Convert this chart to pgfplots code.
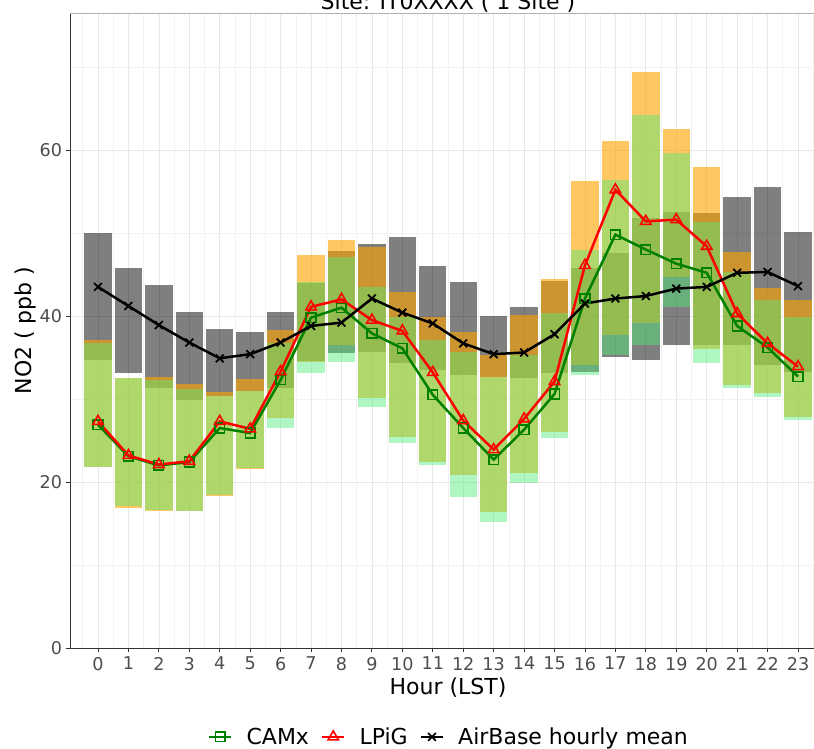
\documentclass[border=0pt]{standalone}
\usepackage{pgfplots}
\pgfplotsset{compat=1.18}
\usepackage{pgfplotstable}
\usepackage{fontspec}
\setmainfont{DejaVu Sans}

\definecolor{obsfill}{RGB}{0,0,0}
\definecolor{lpigfill}{RGB}{255,165,0}
\definecolor{camxfill}{RGB}{80,235,120}
\definecolor{camxline}{RGB}{0,128,0}
\definecolor{lpigline}{RGB}{255,0,0}
\definecolor{axisgrey}{RGB}{77,77,77}
\definecolor{axisdark}{RGB}{51,51,51}

% hourly ranges (ppb): AirBase (ob), LPiG (lp), CAMx (cx)
\pgfplotstableread{
h  oblo obhi lplo lphi cxlo cxhi
0  34.7 50.0 21.8 37.1 21.8 36.7
1  33.1 45.8 16.9 32.5 17.1 32.5
2  31.3 43.7 16.5 32.7 16.6 32.3
3  29.9 40.5 16.5 31.8 16.5 31.2
4  30.4 38.4 18.3 30.8 18.4 30.4
5  31.0 38.1 21.6 32.4 21.7 31.0
6  31.3 40.5 27.7 38.3 26.5 36.7
7  34.6 44.0 34.4 47.4 33.1 44.1
8  35.5 47.8 36.5 49.2 34.5 47.1
9  35.7 48.7 30.1 48.3 29.0 43.5
10 34.3 49.5 25.4 42.9 24.7 39.9
11 33.5 46.0 22.4 39.9 22.0 37.1
12 32.9 44.1 20.8 38.1 18.2 35.7
13 32.7 40.0 16.4 35.3 15.2 32.7
14 32.5 41.1 21.1 40.1 19.9 35.3
15 33.1 44.2 26.0 44.5 25.3 40.4
16 33.3 45.8 34.1 56.2 32.9 48.0
17 35.1 47.6 37.7 61.1 35.3 56.4
18 34.7 51.8 39.2 69.4 36.5 64.2
19 36.5 52.5 44.7 62.5 41.1 59.6
20 36.5 52.4 36.0 58.0 34.3 51.3
21 36.5 54.3 31.7 47.7 31.3 45.3
22 34.1 55.5 30.7 43.4 30.2 41.9
23 33.3 50.1 27.8 41.9 27.5 39.9
}\ranges

% hourly means (ppb)
\pgfplotstableread{
h  camx lpig obs
0  26.9 27.3 43.5
1  23.1 23.2 41.2
2  22.0 22.1 38.9
3  22.4 22.5 36.8
4  26.5 27.3 34.9
5  25.9 26.4 35.4
6  32.3 33.3 36.8
7  39.8 41.1 38.8
8  41.0 42.0 39.2
9  37.9 39.5 42.1
10 36.1 38.2 40.4
11 30.5 33.2 39.1
12 26.5 27.4 36.7
13 22.7 23.9 35.4
14 26.3 27.6 35.6
15 30.6 32.1 37.8
16 42.1 46.1 41.5
17 49.8 55.2 42.1
18 48.0 51.4 42.4
19 46.3 51.6 43.3
20 45.2 48.4 43.5
21 38.8 40.3 45.2
22 36.2 36.7 45.3
23 32.7 33.9 43.6
}\means

% a floating range bar: a thick vertical error bar from lo to hi
\pgfplotsset{
  rangebar/.style n args={2}{
    forget plot, draw=none, mark=none,
    error bars/.cd, y dir=plus, y explicit, error mark=none,
    error bar style={draw=#1, draw opacity=#2, line width=27.4pt, line cap=butt, solid}
  }
}

\begin{document}
\begin{tikzpicture}
\begin{axis}[
  at={(70pt,101pt)}, anchor=south west,
  scale only axis, width=756pt, height=635pt,
  xmin=-0.92, xmax=23.92, ymin=0, ymax=76.5,
  xtick={0,...,23}, minor xtick={-0.5,0.5,...,23.5},
  ytick={0,20,40,60}, minor ytick={10,30,50,70},
  grid=both,
  major grid style={draw=black!9, line width=0.7pt},
  minor grid style={draw=black!5, line width=0.6pt},
  axis x line*=bottom, axis y line*=left,
  axis line style={draw=axisdark, line width=0.9pt, -},
  tick align=outside, major tick length=4.5pt, minor tick length=0pt,
  tick style={draw=axisdark, line width=0.9pt},
  /pgf/number format/assume math mode=true,
  ticklabel style={font=\fontsize{17.6}{20}\selectfont, text=axisgrey},
  xticklabel style={yshift=-1pt},
  xlabel={Hour (LST)}, ylabel={NO2 ( ppb )},
  label style={font=\fontsize{22}{26}\selectfont},
  xlabel style={at={(axis description cs:0.5,-0.063)}, anchor=center},
  ylabel style={at={(axis description cs:-0.0595,0.5)}, anchor=center},
  legend columns=3,
  legend style={at={(axis description cs:0.5,-0.140)}, anchor=center, draw=none,
    font=\fontsize{22}{26}\selectfont, inner sep=0pt, nodes={inner sep=0pt},
    /tikz/every even column/.append style={column sep=12pt},
    /tikz/every odd column/.append style={column sep=14pt}},
  legend cell align=left,
  legend image code/.code={
    \draw[mark repeat=2, mark phase=2, #1] plot coordinates {(0pt,0pt) (11pt,0pt) (22pt,0pt)};
  },
  clip=false,
]
% range bars, drawn grey, then orange, then green so the overlaps blend
\addplot[rangebar={obsfill}{0.5}] table[x=h, y=oblo, y error expr=\thisrow{obhi}-\thisrow{oblo}] {\ranges};
\addplot[rangebar={lpigfill}{0.62}] table[x=h, y=lplo, y error expr=\thisrow{lphi}-\thisrow{lplo}] {\ranges};
\addplot[rangebar={camxfill}{0.45}] table[x=h, y=cxlo, y error expr=\thisrow{cxhi}-\thisrow{cxlo}] {\ranges};

% hourly means
\addplot[camxline, line width=2.5pt, mark=square, mark size=4.8pt, mark options={solid, line width=1.6pt}]
  table[x=h, y=camx] {\means};
\addlegendentry{CAMx}
\addplot[lpigline, line width=2.5pt, mark=triangle, mark size=6pt, mark options={solid, line width=1.6pt}]
  table[x=h, y=lpig] {\means};
\addlegendentry{LPiG}
\addplot[black, line width=2.5pt, mark=x, mark size=5.5pt, mark options={solid, line width=1.8pt}]
  table[x=h, y=obs] {\means};
\addlegendentry{AirBase hourly mean}

% light panel border on the top and right
\draw[black!30, line width=0.9pt] (rel axis cs:0,1) -- (rel axis cs:1,1) -- (rel axis cs:1,0);
\end{axis}
\node[anchor=base, font=\fontsize{22}{26}\selectfont] at (448pt,739.5pt) {Site: IT0XXXX ( 1 Site )};
\pgfresetboundingbox
\useasboundingbox (0pt,0pt) rectangle (814pt,749pt);
\end{tikzpicture}
\end{document}
